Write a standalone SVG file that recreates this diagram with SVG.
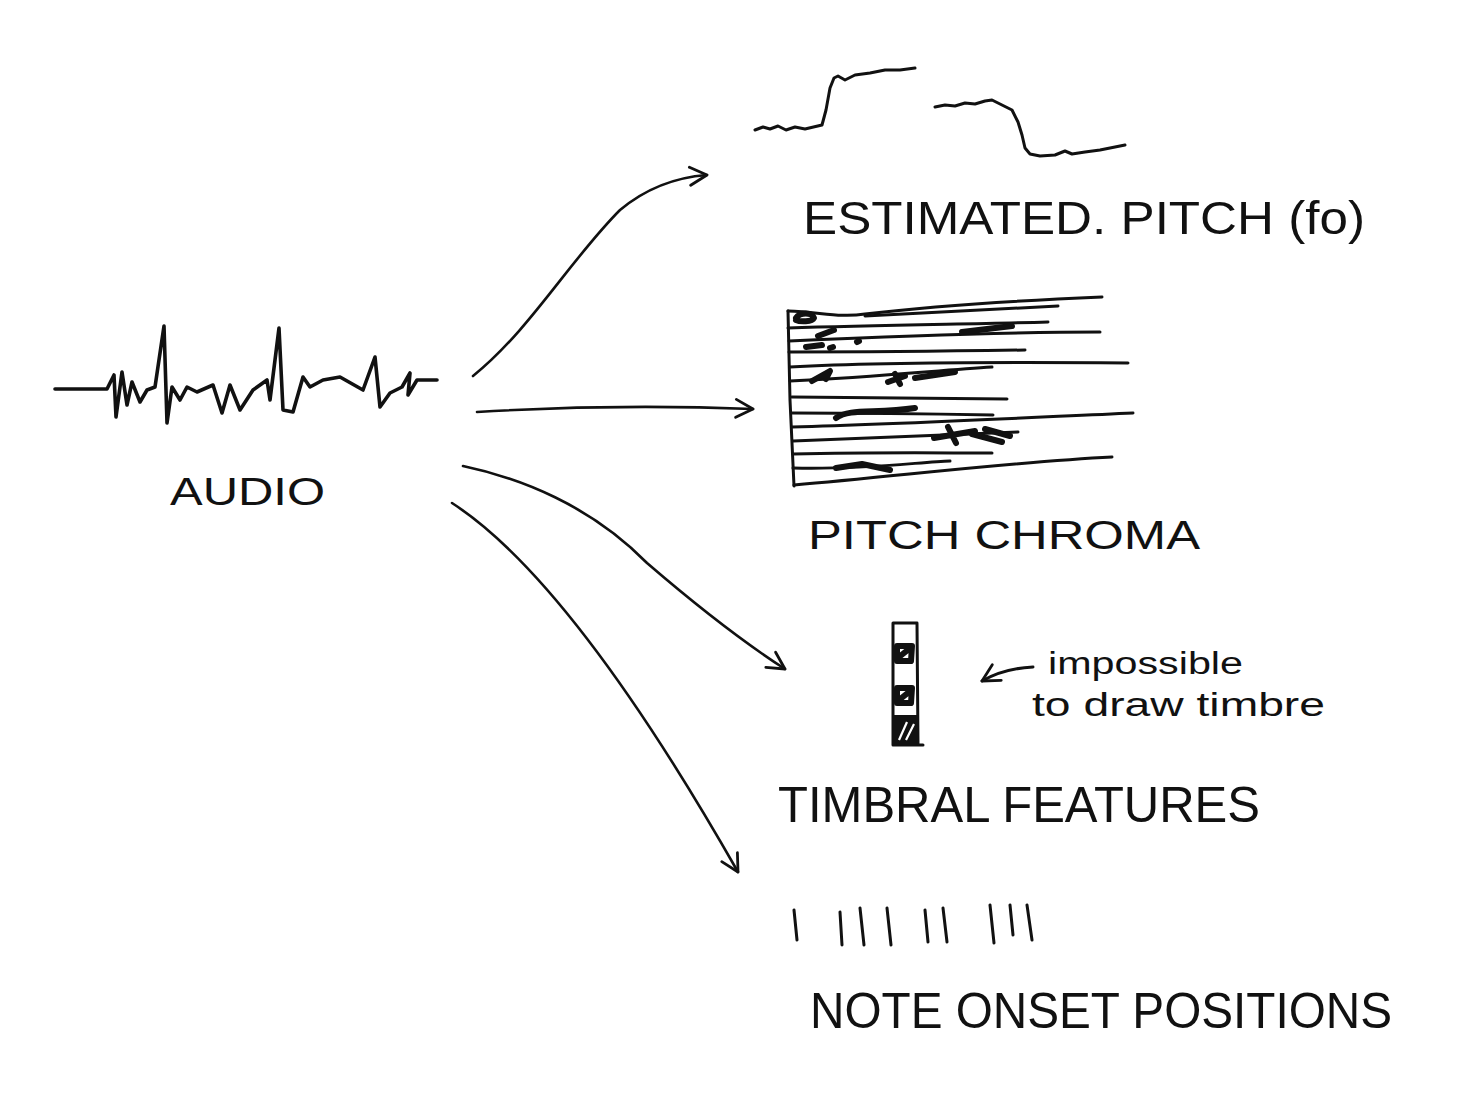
<svg xmlns="http://www.w3.org/2000/svg" width="1467" height="1100" viewBox="0 0 1467 1100">
<defs>
<style>
.ink{fill:none;stroke:#111;stroke-width:3;stroke-linecap:round;stroke-linejoin:round}
.wave{fill:none;stroke:#111;stroke-width:3.6;stroke-linecap:round;stroke-linejoin:round}
.thick{fill:none;stroke:#111;stroke-width:6;stroke-linecap:round;stroke-linejoin:round}
.lbl{font-family:"Liberation Sans",Arial,sans-serif;fill:#111}
.conn{fill:none;stroke:#111;stroke-width:2.6;stroke-linecap:round;marker-end:url(#arr)}
</style>
<marker id="arr" viewBox="0 0 22 22" refX="19" refY="11" markerWidth="22" markerHeight="22" markerUnits="userSpaceOnUse" orient="auto">
<path d="M2,2 L19,11 L2,20" fill="none" stroke="#111" stroke-width="2.8" stroke-linecap="round" stroke-linejoin="round"/>
</marker>
</defs>
<rect width="1467" height="1100" fill="#ffffff"/>

<g id="audio">
<polyline class="wave" points="55,389 107,389 114,375 116,417 122,372 127,405 132,382 140,402 147,390 155,387 164,326 167,423 172,387 180,400 187,387 197,392 213,385 222,413 230,385 240,410 253,390 267,380 270,400 279,328 283,410 293,412 303,377 310,387 323,380 340,377 363,390 375,357 380,407 390,393 402,387 410,373 408,395 417,380 437,380"/>
<text class="lbl" x="170" y="505" font-size="38" textLength="155" lengthAdjust="spacingAndGlyphs">AUDIO</text>
</g>

<g id="pitch">
<polyline class="ink" points="755,130 763,127 770,129 778,126 786,130 795,127 805,129 822,125 826,110 830,88 834,78 838,76 845,80 855,75 870,73 885,70 900,70 915,68"/>
<polyline class="ink" points="935,107 945,105 955,106 965,103 975,104 985,101 992,100 1000,104 1012,110 1018,122 1022,135 1025,148 1030,154 1040,156 1055,155 1065,151 1072,154 1085,152 1100,150 1110,148 1125,145"/>
<text class="lbl" x="803" y="234" font-size="46" textLength="562" lengthAdjust="spacingAndGlyphs">ESTIMATED. PITCH (fo)</text>
</g>

<g id="chroma">
<path class="ink" d="M788,311 L790,400 L794,486"/>
<path class="ink" d="M788,311 C820,312 840,318 865,314 C950,304 1030,300 1102,297"/>
<path class="ink" d="M865,316 C950,312 1010,308 1058,306"/>
<path class="ink" d="M788,328 C880,325 980,324 1048,322"/>
<path class="ink" d="M789,341 C900,336 1000,332 1100,332"/>
<path class="ink" d="M789,352 C880,352 960,351 1025,350"/>
<path class="ink" d="M790,367 C880,362 1000,362 1128,363"/>
<path class="ink" d="M790,381 C880,377 940,370 992,367"/>
<path class="ink" d="M792,397 C880,398 950,399 1007,399"/>
<path class="ink" d="M792,413 C880,413 940,414 993,415"/>
<path class="ink" d="M792,427 C900,424 1020,418 1133,413"/>
<path class="ink" d="M793,441 C880,438 960,434 1018,432"/>
<path class="ink" d="M793,454 C880,452 940,453 992,453"/>
<path class="ink" d="M793,468 C860,470 920,462 950,461"/>
<path class="ink" d="M794,485 C900,476 1010,462 1112,457"/>
<path class="thick" d="M796,318 C800,312 812,312 814,318 C812,322 800,322 796,320"/>
<path class="thick" d="M818,336 L834,330 M806,347 L822,345 M830,348 L833,347 M857,342 L859,341"/>
<path class="thick" d="M962,332 L1012,326"/>
<path class="thick" d="M812,381 L830,371 L826,379"/>
<path class="thick" d="M888,382 L905,376 M895,374 L900,384 M915,378 L955,372"/>
<path class="thick" d="M836,418 C850,408 875,414 915,408"/>
<path class="thick" d="M934,438 L975,431 M948,427 L956,443 M972,434 L1002,442 M985,429 L1010,436"/>
<path class="thick" d="M836,468 L862,464 L890,470"/>
<text class="lbl" x="808" y="549" font-size="40" textLength="392" lengthAdjust="spacingAndGlyphs">PITCH CHROMA</text>
</g>

<g id="timbral">
<path class="ink" d="M893,623 L917,623 M893,623 L893,745 M917,623 L918,745 M893,745 L923,745"/>
<path class="thick" d="M897,646 L912,646 L911,661 L897,661 Z M899,657 L909,649"/>
<path class="thick" d="M897,688 L912,688 L911,703 L897,703 Z M899,700 L909,692"/>
<rect x="894" y="715" width="23" height="29" fill="#111"/>
<path d="M899,740 L907,722 M906,740 L914,724" stroke="#fff" stroke-width="2.2" fill="none"/>
<text class="lbl" x="1048" y="674" font-size="31" textLength="195" lengthAdjust="spacingAndGlyphs">impossible</text>
<text class="lbl" x="1032" y="716" font-size="33" textLength="293" lengthAdjust="spacingAndGlyphs">to draw timbre</text>
<path class="ink" d="M1033,667 C1012,668 996,673 982,681" marker-end="url(#arr)"/>
<text class="lbl" x="778" y="822" font-size="50" textLength="482" lengthAdjust="spacingAndGlyphs">TIMBRAL FEATURES</text>
</g>

<g id="onsets">
<path class="ink" d="M794,910 L797,940 M840,912 L842,945 M860,908 L864,945 M887,908 L891,945 M925,910 L928,942 M943,908 L947,942 M990,905 L994,943 M1010,905 L1013,935 M1027,905 L1032,940"/>
<text class="lbl" x="810" y="1028" font-size="50" textLength="582" lengthAdjust="spacingAndGlyphs">NOTE ONSET POSITIONS</text>
</g>

<g id="connectors">
<path class="conn" d="M473,376 C530,330 570,260 620,210 C650,185 680,177 707,175"/>
<path class="conn" d="M477,412 C560,407 650,405 753,409"/>
<path class="conn" d="M463,466 C520,478 590,505 647,563 C690,600 740,640 785,669"/>
<path class="conn" d="M452,503 C540,560 640,700 738,872"/>
</g>
</svg>
